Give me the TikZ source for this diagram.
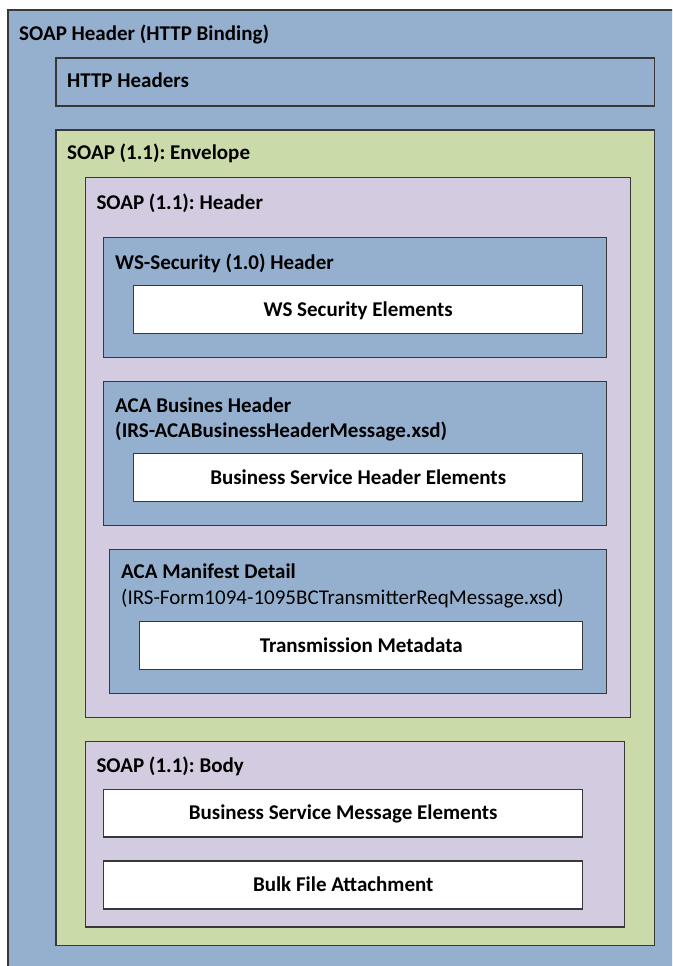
\documentclass[tikz,border=0pt]{standalone}
\usepackage{fontspec}
\setmainfont{Carlito}
\frenchspacing
\usetikzlibrary{fit}
\definecolor{boxblue}{HTML}{95B0CF}
\definecolor{boxgreen}{HTML}{CBDAA9}
\definecolor{boxpurple}{HTML}{D3CBDF}
\definecolor{edge}{HTML}{383838}
\begin{document}
\begin{tikzpicture}[x=1pt,y=-1pt,
  frame/.style={draw=edge, line width=1.2pt, inner sep=0pt, outer sep=0pt},
  bluebox/.style={frame, fill=boxblue},
  greenbox/.style={frame, fill=boxgreen},
  purplebox/.style={frame, fill=boxpurple},
  whitebox/.style={frame, fill=white},
  boxtext/.style={anchor=base, inner sep=0pt, font=\fontsize{21}{25}\selectfont\bfseries},
  title/.style={anchor=base west, inner sep=0pt, font=\fontsize{21}{25}\selectfont\bfseries},
  subtitle/.style={anchor=base west, inner sep=0pt, font=\fontsize{21}{25}\selectfont}]
\useasboundingbox (0,0) rectangle (672,966);
\clip (0,0) rectangle (672,966);
\fill[white] (0,0) rectangle (672,966);
% outer
\node[bluebox, fit={(8,10) (700,1000)}] (outer) {};
\node[title] (outert) at (19,40.5) {SOAP Header (HTTP Binding)};
% HTTP headers
\node[bluebox, fit={(56,58) (654.7,106)}] (http) {};
\node[title] (httpt) at (67,88) {HTTP Headers};
% envelope
\node[greenbox, fit={(56,130) (654.3,945.3)}] (env) {};
\node[title] (envt) at (67,159.5) {SOAP (1.1): Envelope};
% soap header
\node[purplebox, fit={(85.7,177.7) (630.3,717.3)}] (hdr) {};
\node[title] (hdrt) at (96.3,209) {SOAP (1.1): Header};
% ws-security
\node[bluebox, fit={(103.7,237.7) (606.3,357.3)}] (wss) {};
\node[title] (wsst) at (115,269) {WS-Security (1.0) Header};
\node[whitebox, fit={(133.7,285.7) (582.7,333.7)}] (wsse) {};
\node[boxtext] (wsset) at ([yshift=-6.75pt]wsse.center) {WS Security Elements};
% ACA business header
\node[bluebox, fit={(103.7,381.7) (606.3,525.3)}] (aca) {};
\node[title] (acat) at (115,412.7) {ACA Busines Header};
\node[title] (acat2) at (115,437.3) {(IRS-ACABusinessHeaderMessage.xsd)};
\node[whitebox, fit={(133.7,453.7) (582.7,501.3)}] (acae) {};
\node[boxtext] (acaet) at ([yshift=-6.75pt]acae.center) {Business Service Header Elements};
% ACA manifest
\node[bluebox, fit={(109.7,549.3) (606.3,693.3)}] (man) {};
\node[title] (mant) at (121,578.7) {ACA Manifest Detail};
\node[subtitle] (mant2) at (121,604) {(IRS-Form1094-1095BCTransmitterReqMessage.xsd)};
\node[whitebox, fit={(139.7,621.3) (582.7,669.3)}] (mane) {};
\node[boxtext] (manet) at ([yshift=-6.75pt]mane.center) {Transmission Metadata};
% body
\node[purplebox, fit={(85.7,741.3) (624.7,927)}] (body) {};
\node[title] (bodyt) at (96.3,772) {SOAP (1.1): Body};
\node[whitebox, fit={(103.7,789.3) (582.7,837)}] (bme) {};
\node[boxtext] (bmet) at ([yshift=-6.75pt]bme.center) {Business Service Message Elements};
\node[whitebox, fit={(103.7,861) (582.7,909)}] (bfa) {};
\node[boxtext] (bfat) at ([yshift=-6.75pt]bfa.center) {Bulk File Attachment};
\end{tikzpicture}
\end{document}
